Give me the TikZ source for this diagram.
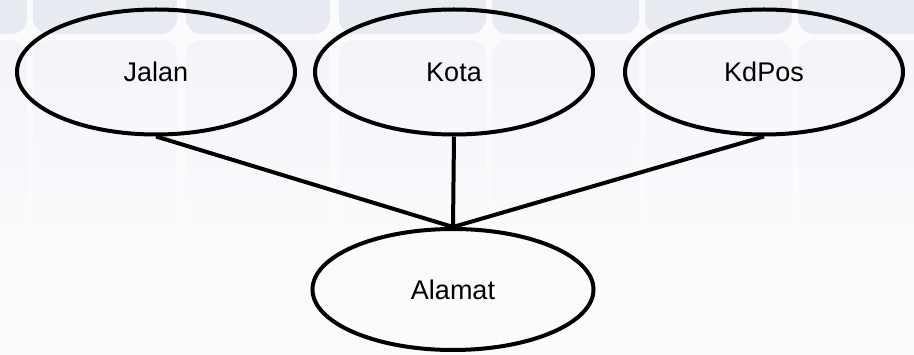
\documentclass[tikz,border=0pt]{standalone}
\usepackage{fontspec}
\setmainfont{Liberation Sans}
\usetikzlibrary{shapes.geometric}

\definecolor{tiletop}{HTML}{E7EAF1}
\definecolor{tilemid}{HTML}{F2F4F8}
\definecolor{tilelow}{HTML}{FBFBFD}

\begin{document}
\begin{tikzpicture} [x=1pt, y=-1pt,
				attribute/.style={
				% The shape:
				ellipse,
				% The size:
				minimum width=278pt,
				minimum height=125pt,
				inner sep=0pt,
				% The border:
				line width=4pt,
				draw=black,
				% The font:
				font=\fontsize{27}{32}\selectfont
				},
				connector/.style={
				line width=4pt,
				draw=black
				},
				tile/.style={
				rounded corners=16pt,
				draw=none
				}
				]
    % background tiles
    \useasboundingbox (0,0) rectangle (914,355);
    \fill[tilelow] (0,0) rectangle (914,355);
    \foreach \left/\right in {-120/27, 33/177, 186/330, 339/486, 492/639, 645/792, 798/945} {
        \fill[tile, tiletop] (\left,-40) rectangle (\right,34);
        \shade[tile, top color=tilemid, bottom color=tilelow] (\left,40) rectangle (\right,240);
    }
    % attributes
    \node [attribute] (jalan) at (156,72) {Jalan};
    \node [attribute] (kota) at (454,72) {Kota};
    \node [attribute] (kdpos) at (764,72) {KdPos};
    \node [attribute, minimum width=281pt, minimum height=121pt] (alamat) at (453,289.5) {Alamat};
    % links
    \draw [connector] (jalan.south) -- (alamat.north);
    \draw [connector] (kota.south) -- (alamat.north);
    \draw [connector] (kdpos.south) -- (alamat.north);
\end{tikzpicture}
\end{document}
